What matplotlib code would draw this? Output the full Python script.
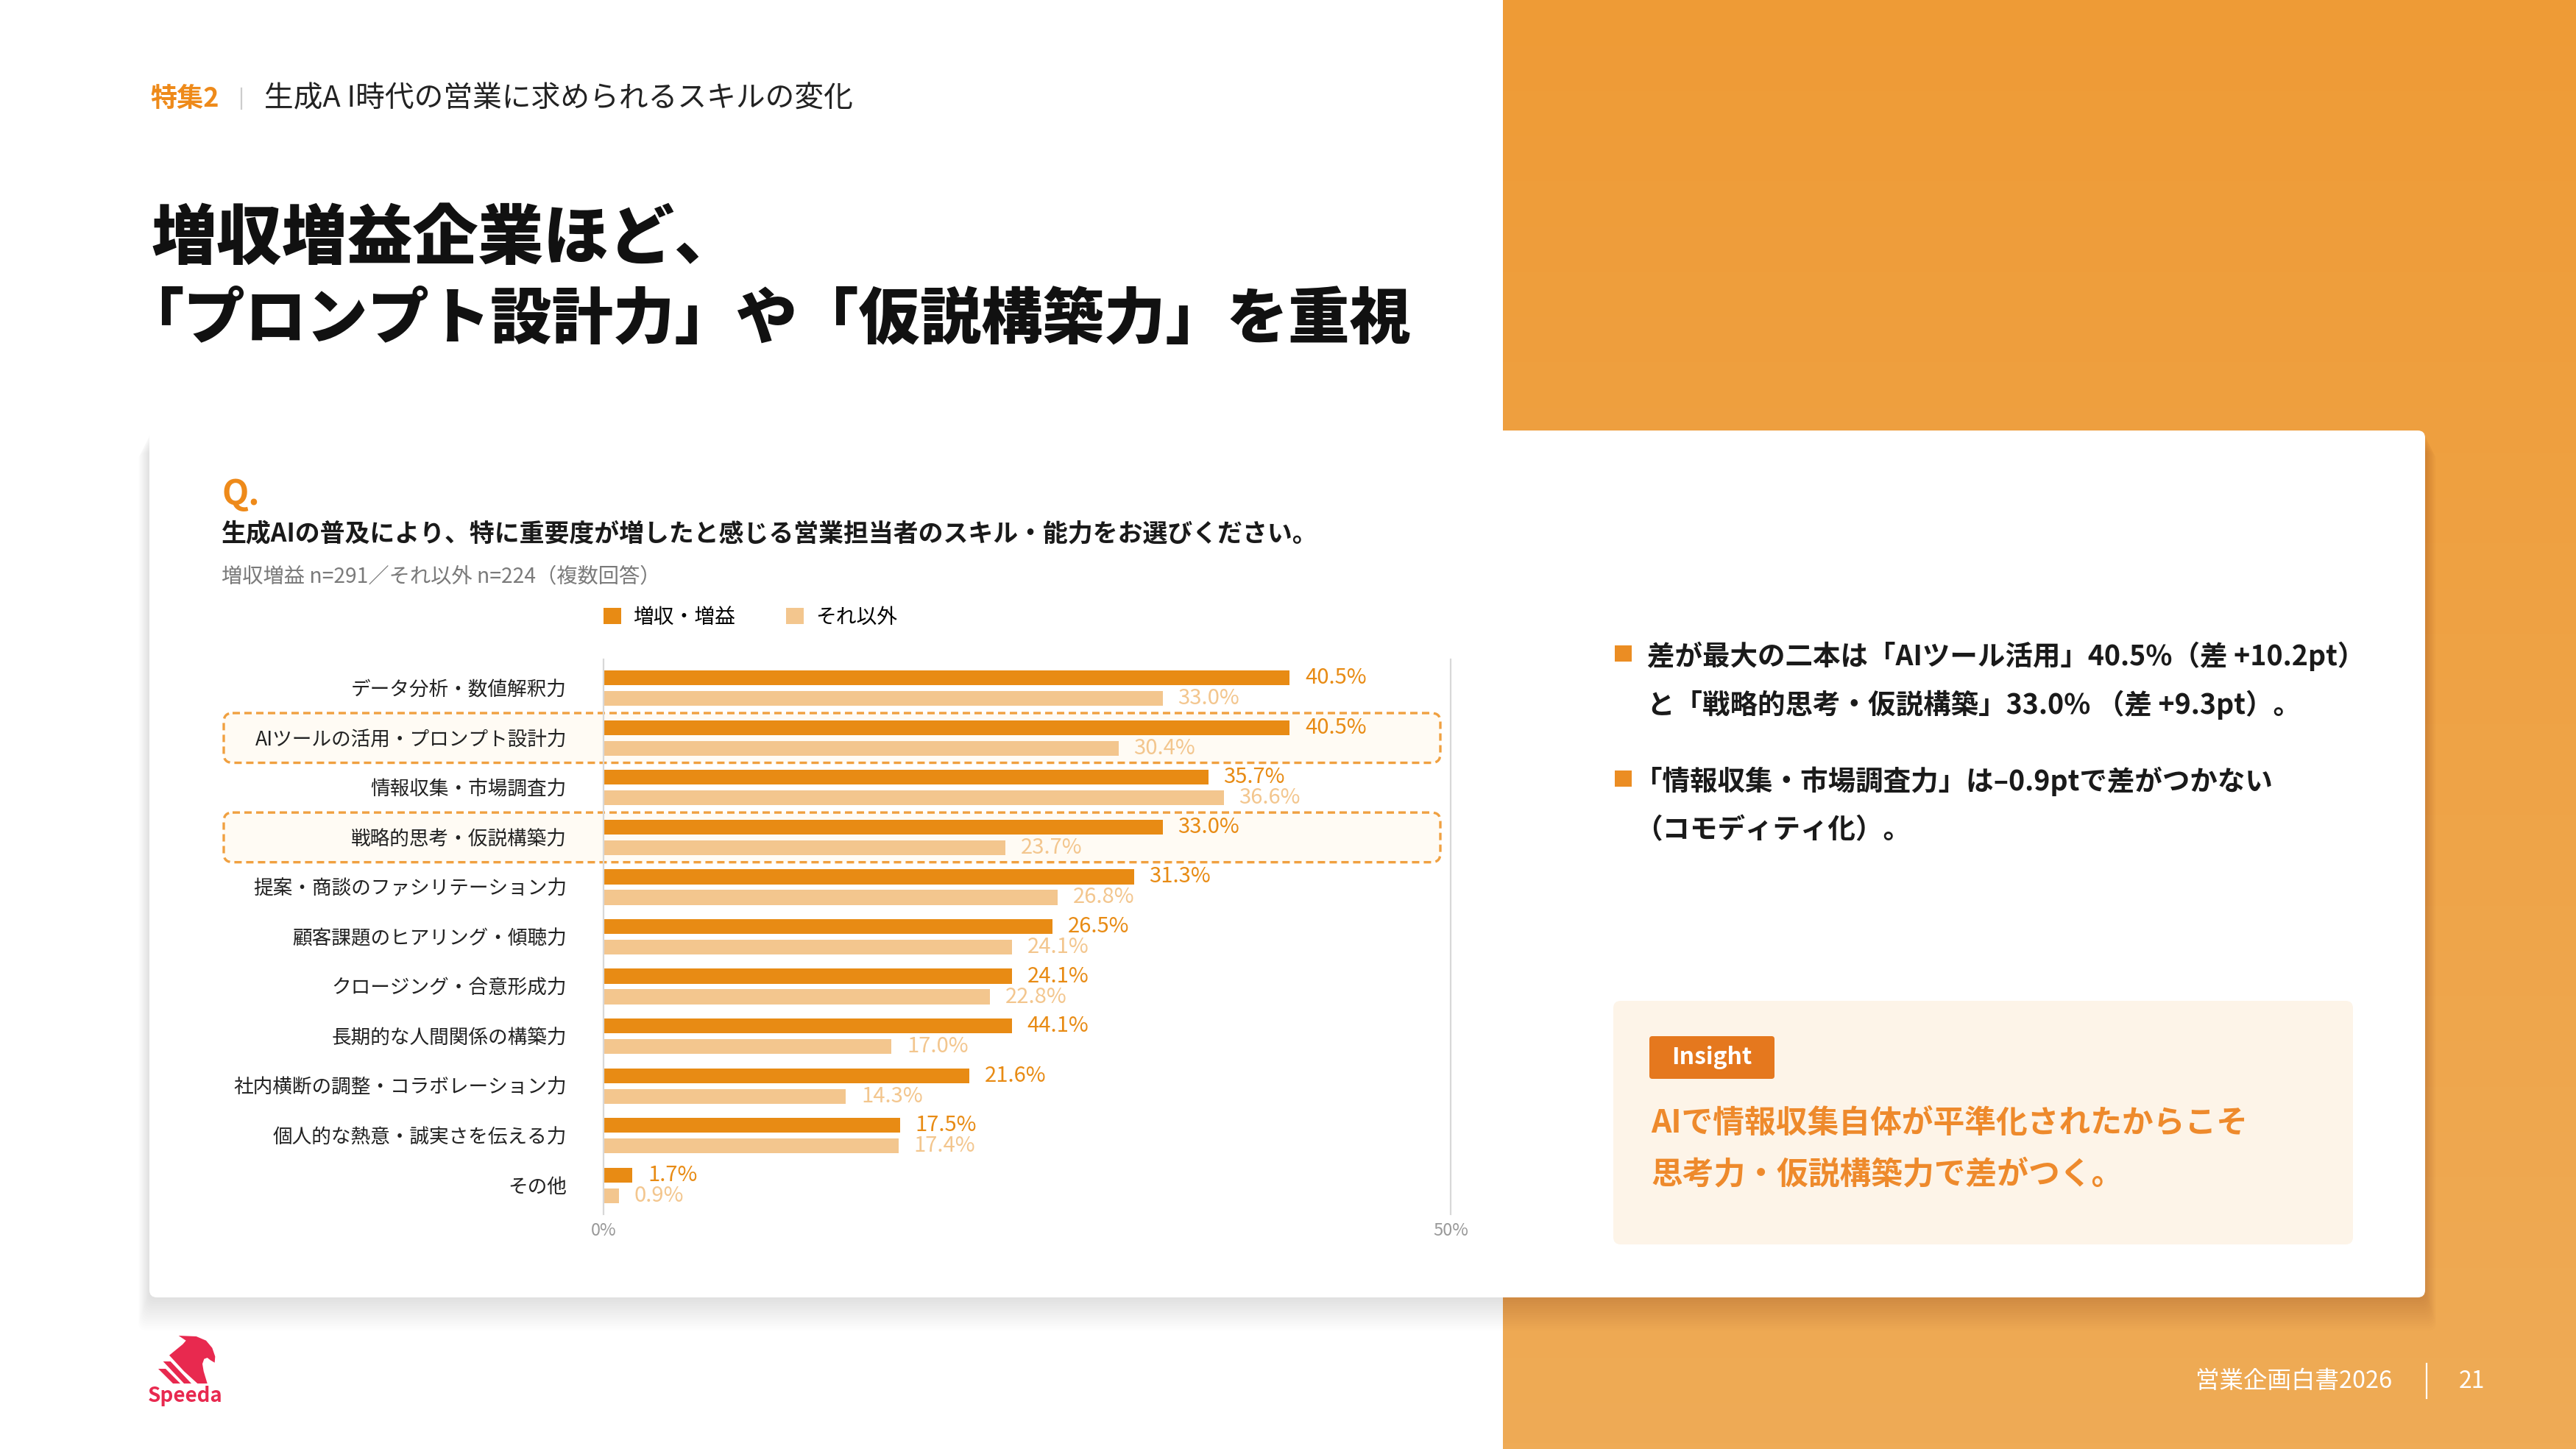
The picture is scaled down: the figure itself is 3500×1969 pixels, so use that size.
import numpy as np
import matplotlib.pyplot as plt
from matplotlib.patches import FancyBboxPatch, Rectangle, Polygon
from matplotlib.colors import LinearSegmentedColormap

plt.rcParams['font.family'] = ['Noto Sans CJK JP', 'DejaVu Sans']

# --- data ---
skills = [
    "データ分析・数値解釈力",
    "AIツールの活用・プロンプト設計力",
    "情報収集・市場調査力",
    "戦略的思考・仮説構築力",
    "提案・商談のファシリテーション力",
    "顧客課題のヒアリング・傾聴力",
    "クロージング・合意形成力",
    "長期的な人間関係の構築力",
    "社内横断の調整・コラボレーション力",
    "個人的な熱意・誠実さを伝える力",
    "その他",
]
growth = [40.5, 40.5, 35.7, 33.0, 31.3, 26.5, 24.1, 24.1, 21.6, 17.5, 1.7]
# printed labels (one label in the source reads 44.1% on a 24.1 bar)
growth_labels = ["40.5%", "40.5%", "35.7%", "33.0%", "31.3%", "26.5%",
                 "24.1%", "44.1%", "21.6%", "17.5%", "1.7%"]
others = [33.0, 30.4, 36.6, 23.7, 26.8, 24.1, 22.8, 17.0, 14.3, 17.4, 0.9]
series_names = ["増収・増益", "それ以外"]
highlighted = ["AIツールの活用・プロンプト設計力", "戦略的思考・仮説構築力"]
x_ticks = [0, 50]

ORANGE = '#E88B14'
LIGHT = '#F3C68E'
W, H = 3500, 1969

fig = plt.figure(figsize=(W / 200, H / 200), dpi=200)

# background axes in pixel coordinates (y down)
bg = fig.add_axes([0, 0, 1, 1])
bg.axis('off')

# orange panel on the right, soft vertical gradient
grad = np.linspace(0, 1, 256).reshape(-1, 1)
panel_cmap = LinearSegmentedColormap.from_list('panel', ['#EE9B36', '#EFAB56'])
bg.imshow(grad, cmap=panel_cmap, extent=[2042, W, H, 0], aspect='auto', zorder=0)
bg.set_xlim(0, W)
bg.set_ylim(H, 0)

# header
bg.text(204, 134, "特集2", fontsize=13, fontweight='bold', color='#EE8A1A', va='center')
bg.plot([328, 328], [120, 148], color='#cccccc', lw=0.8)
bg.text(359, 134, "生成A I時代の営業に求められるスキルの変化", fontsize=14.3,
        color='#222222', va='center')

# title
bg.text(206, 325, "増収増益企業ほど、", fontsize=32, fontweight='black',
        color='#111111', va='center')
# opening bracket sits in the right half of its em box, so start a bit left
bg.text(206 - 0.48 * 30 * 200 / 72, 434, "「プロンプト設計力」や「仮説構築力」を重視",
        fontsize=30, fontweight='black', color='#111111', va='center')

# card shadow + card
for k in range(1, 16):
    bg.add_patch(FancyBboxPatch((203 - k, 585 + k * 2), 3092 + 2 * k, 1178 + k,
                                boxstyle='round,pad=0,rounding_size=10',
                                fc='black', ec='none', alpha=0.006, zorder=1))
bg.add_patch(FancyBboxPatch((203, 585), 3092, 1178, boxstyle='round,pad=0,rounding_size=10',
                            fc='white', ec='none', zorder=2))

# question block
bg.text(301, 672, "Q.", fontsize=17, fontweight='bold', color='#EE8A1A', va='center', zorder=3)
bg.text(301, 726, "生成AIの普及により、特に重要度が増したと感じる営業担当者のスキル・能力をお選びください。",
        fontsize=12.2, fontweight='bold', color='#1a1a1a', va='center', zorder=3)
bg.text(301, 783, "増収増益 n=291／それ以外 n=224（複数回答）", fontsize=10.2,
        color='#7a7a7a', va='center', zorder=3)

# chart axes
ax_left, ax_right, ax_top, ax_bottom = 820, 1971, 896, 1650
ax = fig.add_axes([ax_left / W, 1 - ax_bottom / H, (ax_right - ax_left) / W, (ax_bottom - ax_top) / H])
ax.set_facecolor('none')
ax.set_zorder(5)

y = np.arange(len(skills))
off, bh = 0.207, 0.30
ax.barh(y - off, growth, height=bh, color=ORANGE, label=series_names[0])
ax.barh(y + off, others, height=bh, color=LIGHT, label=series_names[1])

for yi, v, lab in zip(y, growth, growth_labels):
    ax.annotate(lab, (v, yi - off), xytext=(7.5, 0), textcoords='offset points',
                va='center', ha='left', fontsize=10.5, color=ORANGE)
for yi, v in zip(y, others):
    ax.annotate(f"{v:.1f}%", (v, yi + off), xytext=(7.5, 0), textcoords='offset points',
                va='center', ha='left', fontsize=10.5, color=LIGHT)

ax.set_xlim(0, 50)
ax.set_ylim(len(skills) - 1 + 0.58, -0.58)
ax.set_yticks(y, skills)
ax.set_xticks(x_ticks, [f"{t}%" for t in x_ticks])
ax.tick_params(axis='y', length=0, pad=18, labelsize=9.6, labelcolor='#222222')
ax.tick_params(axis='x', length=0, pad=4, labelsize=8.5, labelcolor='#999999')
for s in ['top', 'bottom']:
    ax.spines[s].set_visible(False)
for s in ['left', 'right']:
    ax.spines[s].set_color('#d8d8d8')
    ax.spines[s].set_linewidth(0.8)

ax.legend(loc='center left', bbox_to_anchor=(0, 1.0756), ncol=2, frameon=False,
          fontsize=10, handlelength=0.85, handleheight=0.85, handletextpad=0.58,
          columnspacing=2.5, borderpad=0, borderaxespad=0)

# dashed highlight rows, positioned from the chart's own row scale
for name in highlighted:
    i = skills.index(name)
    (_, d_top), (_, d_bot) = ax.transData.transform([(0, i - 0.5), (0, i + 0.5)])
    top, bot = H - d_top, H - d_bot
    bg.add_patch(FancyBboxPatch((304, top), 1957 - 304, bot - top,
                                boxstyle='round,pad=0,rounding_size=12',
                                fc='#FFFBF4', ec='#F0A040', lw=1.2,
                                ls=(0, (3, 1.8)), zorder=3))

# right-hand commentary
bullets = [
    ["差が最大の二本は「AIツール活用」40.5%（差 +10.2pt）",
     "と「戦略的思考・仮説構築」33.0% （差 +9.3pt）。"],
    ["「情報収集・市場調査力」は–0.9ptで差がつかない",
     "（コモディティ化）。"],
]
BUL_FS = 13.5
for (y0, lines) in zip([888, 1058], bullets):
    bg.add_patch(Rectangle((2194, y0 - 11), 23, 22, fc='#EB8D23', ec='none', zorder=3))
    for j, line in enumerate(lines):
        x0 = 2238
        if line[0] in "「（":
            x0 -= 0.45 * BUL_FS * 200 / 72
        bg.text(x0, y0 + 4 + j * 66, line, fontsize=BUL_FS, fontweight='bold',
                color='#1a1a1a', va='center', zorder=3)

# insight box
bg.add_patch(FancyBboxPatch((2192, 1360), 1005, 331, boxstyle='round,pad=0,rounding_size=10',
                            fc='#FDF4E8', ec='none', zorder=3))
bg.add_patch(FancyBboxPatch((2241, 1408), 170, 58, boxstyle='round,pad=0,rounding_size=4',
                            fc='#E5781E', ec='none', zorder=4))
bg.text(2326, 1437, "Insight", fontsize=11.5, fontweight='bold', color='white',
        ha='center', va='center', zorder=5)
bg.text(2243, 1526, "AIで情報収集自体が平準化されたからこそ", fontsize=15.4,
        fontweight='bold', color='#EE8A2C', va='center', zorder=5)
bg.text(2243, 1595, "思考力・仮説構築力で差がつく。", fontsize=15.4,
        fontweight='bold', color='#EE8A2C', va='center', zorder=5)

# footer logo (rough eagle mark) and page info
RED = '#E8294F'
head = [(188, 105), (260, 108), (300, 125), (325, 155), (337, 190), (335, 215),
        (318, 205), (305, 195), (292, 200), (285, 220), (290, 250), (305, 300),
        (265, 300), (210, 250), (150, 185), (205, 140), (218, 125)]
stripes = [[(125, 210), (155, 210), (240, 300), (210, 300)],
           [(105, 240), (135, 240), (195, 300), (165, 300)]]
to_px = lambda pts: [(180 + a / 3, 1780 + b / 3) for a, b in pts]
bg.add_patch(Polygon(to_px(head), closed=True, fc=RED, ec='none', zorder=3))
for st in stripes:
    bg.add_patch(Polygon(to_px(st), closed=True, fc=RED, ec='none', zorder=3))
bg.text(252, 1897, "Speeda", fontsize=10, fontweight='bold', color=RED,
        ha='center', va='center', zorder=3)

bg.text(3250, 1877, "営業企画白書2026", fontsize=11.7, color='white', ha='right', va='center', zorder=3)
bg.plot([3297, 3297], [1853, 1900], color='white', lw=0.8, zorder=3)
bg.text(3341, 1877, "21", fontsize=11.5, color='white', ha='left', va='center', zorder=3)

fig.savefig('out.png', dpi=200)
